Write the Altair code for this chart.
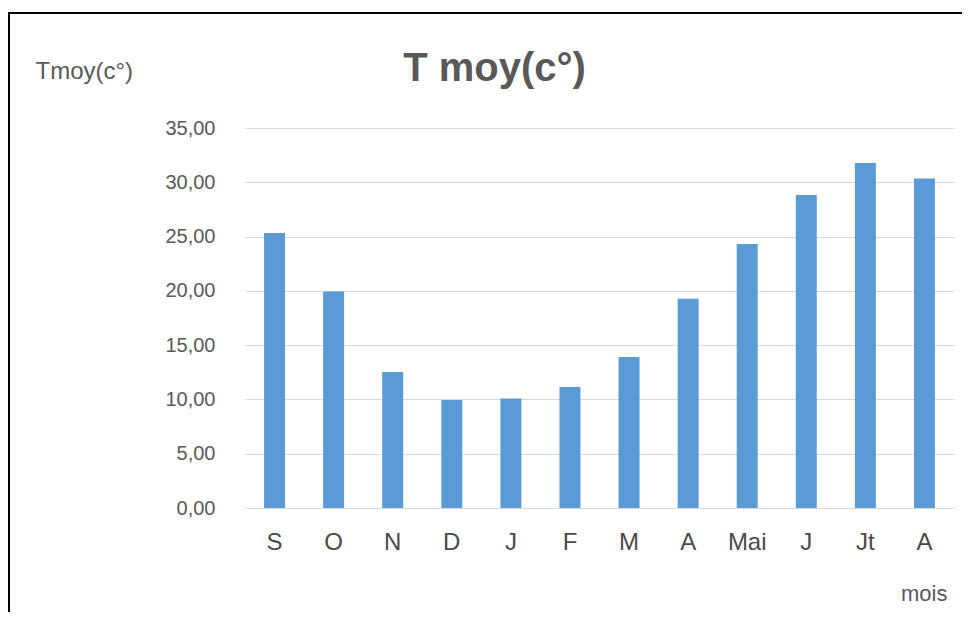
import json
import altair as alt
import pandas as pd

# Data
mois = ["S", "O", "N", "D", "J", "F", "M", "A", "Mai", "J", "Jt", "A"]
tmoy = [25.32, 19.95, 12.52, 9.94, 10.09, 11.14, 13.90, 19.27, 24.31, 28.82, 31.77, 30.35]
y_ticks = [0, 5, 10, 15, 20, 25, 30, 35]

df = pd.DataFrame({"idx": list(range(len(mois))), "mois": mois, "tmoy": tmoy})

FONT = "Liberation Sans"
label_expr = json.dumps(mois) + "[datum.value]"

bars = alt.Chart(df).mark_bar(color="#5B9BD5").encode(
    x=alt.X(
        "idx:O",
        scale=alt.Scale(paddingInner=0.645, paddingOuter=0.3225),
        axis=alt.Axis(
            title="mois",
            labelExpr=label_expr,
            labelAngle=0,
            labelFont=FONT,
            labelFontSize=24,
            labelColor="#4a4a4a",
            labelPadding=22,
            labelBaseline="top",
            ticks=False,
            tickSize=0,
            domain=True,
            domainColor="#d9d9d9",
            domainWidth=1,
            grid=False,
            titleFont=FONT,
            titleFontSize=22,
            titleFontWeight="normal",
            titleColor="#595959",
            titleAlign="right",
            titleAnchor="end",
            titleBaseline="alphabetic",
            titleX=702,
            titleY=92,
        ),
    ),
    y=alt.Y(
        "tmoy:Q",
        scale=alt.Scale(domain=[0, 35], nice=False),
        axis=alt.Axis(
            title="Tmoy(c°)",
            values=y_ticks,
            labelExpr="replace(format(datum.value, '.2f'), '.', ',')",
            labelFont=FONT,
            labelFontSize=20,
            labelColor="#595959",
            labelPadding=30,
            ticks=False,
            tickSize=0,
            domain=False,
            grid=True,
            gridColor="#d9d9d9",
            gridWidth=1,
            titleAngle=0,
            titleFont=FONT,
            titleFontSize=24,
            titleFontWeight="normal",
            titleColor="#595959",
            titleAlign="left",
            titleBaseline="alphabetic",
            titleX=-210,
            titleY=-50,
        ),
    ),
    tooltip=["mois", "tmoy"],
)

frame = alt.Chart(alt.Data(values=[{"f": 1}])).mark_rect(
    fill="transparent", stroke="black", strokeWidth=2
).encode(
    x=alt.value(-236), x2=alt.value(1200), y=alt.value(-115), y2=alt.value(1200)
)

chart = alt.layer(bars, frame).properties(
    width=709,
    height=380,
    padding={"left": 237, "top": 120, "right": 8, "bottom": 104},
    autosize=alt.AutoSizeParams(type="none"),
    title=alt.TitleParams(
        text="T moy(c°)",
        font=FONT,
        fontSize=40,
        fontWeight="bold",
        color="#595959",
        anchor="middle",
        dx=-105,
        dy=109,
        offset=0,
        baseline="alphabetic",
    ),
).configure(
    background="white",
    view=alt.ViewConfig(stroke="transparent", strokeWidth=0),
)

chart.save("out.html", embed_options={"renderer": "svg", "actions": False})
